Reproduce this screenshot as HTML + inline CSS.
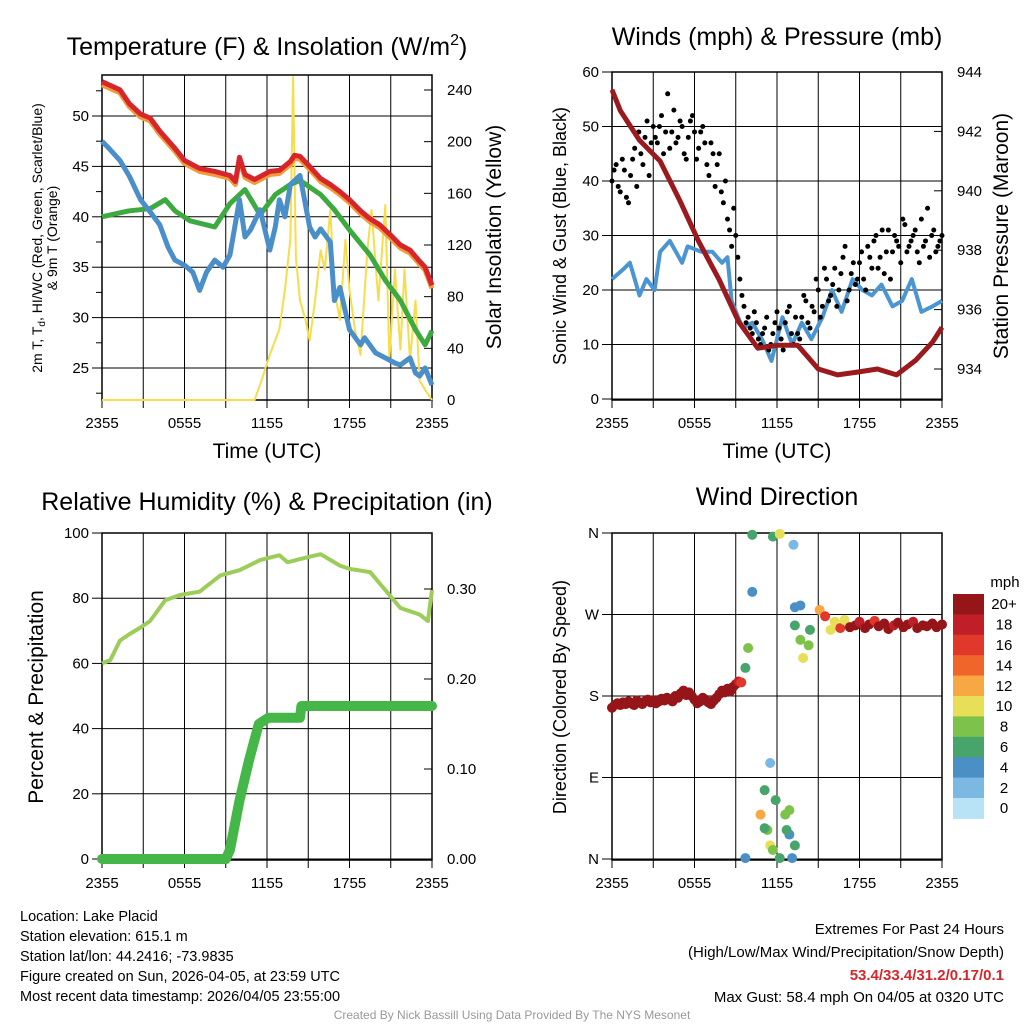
<!DOCTYPE html>
<html><head><meta charset="utf-8">
<style>
html,body{margin:0;padding:0;background:#fff;}
svg{display:block;font-family:"Liberation Sans",Arial,sans-serif;}
</style></head>
<body>
<svg id="chart" width="1024" height="1024" viewBox="0 0 1024 1024" xmlns="http://www.w3.org/2000/svg"></svg>
<script>
// ---- Panel 1 data: temperature / insolation ----
const tHours=[0,1.3,2.0,2.8,3.5,4.2,5.3,6.0,7.1,8.2,9.3,9.7,10.0,10.4,11.1,12.2,12.9,13.7,14.0,14.4,15.1,15.9,16.6,17.3,18.0,18.8,19.5,20.2,20.9,21.7,22.4,23.1,23.5,24];
const tempRed=[53.4,52.6,51.2,50.2,49.8,48.5,46.8,45.6,44.8,44.5,44.1,43.5,45.9,44.2,43.7,44.5,44.6,45.5,46.1,46.0,45.0,43.8,43.2,42.5,41.7,40.6,39.8,39.2,38.3,37.2,36.7,35.6,35.0,33.2];
const dHours=[0,0.5,1.3,2.0,2.8,3.5,4.2,4.8,5.3,6.0,6.6,7.1,7.6,8.2,8.8,9.3,10.0,10.4,10.8,11.5,12.2,12.6,12.9,13.3,13.7,14.4,15.1,15.5,15.9,16.6,16.9,17.3,18.0,18.8,19.1,19.9,20.6,21.3,21.7,22.4,22.8,23.1,23.5,24];
const dewBlue=[47.5,46.8,45.6,44,41.7,40.5,39.2,37,35.7,35.2,34.5,32.7,34.5,35.7,35.0,36.2,41.7,38.0,38.7,40.7,36.7,39,41.7,40,43.2,44.1,39,38,38.8,37.5,31.7,33,28.8,27.3,28,26.5,26,25.5,25.3,26,24.5,24.2,25,23.3];
const gHours=[0,1.3,2.0,3.5,4.6,5.3,6.4,8.2,9.3,10.4,11.5,12.6,13.7,14.4,15.9,16.9,18.0,19.5,20.6,21.7,22.8,23.5,24];
const hiwcGreen=[40,40.4,40.6,40.8,41.7,40.6,39.6,39.0,41.3,42.7,40.2,42.2,43.2,43.6,42.2,40.7,38.7,36.2,33.7,31.7,28.8,27.3,28.7];
const sHours=[0,11.1,11.6,12.2,12.9,13.3,13.7,13.9,14.1,14.4,14.8,15.1,15.5,15.9,16.2,16.6,16.9,17.3,17.7,18.0,18.4,18.8,19.3,19.6,20.1,20.6,20.9,21.3,21.7,22.0,22.4,22.8,23.1,23.5,24];
const solar=[0,0,15,35,55,85,125,250,110,77,62,46,77,116,101,147,85,62,124,85,54,35,116,147,77,151,31,101,39,101,31,77,15,8,0];
const tempTicks=[25,30,35,40,45,50];
const tempMinor=[22.5,27.5,32.5,37.5,42.5,47.5,52.5];
const solarTicks=[0,40,80,120,160,200,240];
const timeTicks=[0,6,12,18,24];
const timeGrid=[3,9,15,21];
const timeLabels=['2355','0555','1155','1755','2355'];
// ---- Panel 2 data: winds / pressure ----
const wHours=[0,0.9,1.3,2.0,2.5,3.1,3.5,4.2,5.1,5.5,6.5,7.3,8.0,8.4,8.7,9.5,10.2,10.9,11.6,12.4,13.1,13.8,14.5,15.3,16.0,16.7,17.5,18.2,18.9,19.6,20.4,21.1,21.8,22.5,23.3,24];
const windSpeed=[22,24,25,19,22,20,27,29,25,28,27,27,25,26,18,13,14,11,7,15,10,14,11,15,20,16,22,20,19,21,17,18,22,16,17,18];
const gustInterval=0.3;
const gusts=[40,43,38,42,36,44,39,45,48,41,50,47,52,49,46,53,48,50,44,51,49,46,50,43,47,39,45,36,33,28,30,22,17,15,12,14,10,13,9,12,16,11,14,17,10,12,15,18,13,16,20,17,22,19,24,20,26,18,23,21,25,22,28,24,30,26,23,31,27,29,25,32,28,30,27,33,29,26,31,28,30];
const gusts2=[42,39,44,37,41,46,49,43,51,47,48,50,45,56,49,47,51,45,48,52,44,49,47,41,45,43,38,40,31,35,26,19,14,13,16,11,12,15,10,14,13,9,16,12,15,11,19,14,17,22,15,24,18,21,17,23,28,20,25,22,27,20,26,29,24,31,27,22,30,28,33,27,29,31,25,28,35,30,27,29];
const pHours=[0,0.6,2.0,3.5,4.9,6.3,7.8,9.2,10.6,12.1,13.5,15.0,16.4,17.9,19.3,20.7,22.1,23.3,24];
const pressure=[943.4,942.7,941.7,941.0,939.7,938.3,937.0,935.6,934.7,934.8,934.8,934.0,933.8,933.9,934.0,933.8,934.3,934.9,935.4];
const windTicks=[0,10,20,30,40,50,60];
const presTicks=[934,936,938,940,942,944];
// ---- Panel 3 data: RH / precip ----
const rhHours=[0,0.6,1.3,2.0,2.8,3.5,4.6,5.7,7.1,8.6,10.0,11.5,12.9,13.5,14.4,15.9,17.3,18.0,19.5,20.6,21.7,23.1,23.7,24];
const rh=[60,61,67,69,71,73,79.4,81,82,87,88.6,91.7,93.2,91,92,93.5,90,89,88,82.5,77,75,73,82.5];
const prHours=[0,9.0,9.3,10.0,10.7,11.4,12.1,13.2,14.4,14.5,24];
const precip=[0,0,0.01,0.065,0.11,0.15,0.157,0.157,0.157,0.17,0.17];
const rhTicks=[0,20,40,60,80,100];
const prTicks=[0,0.1,0.2,0.3];
const prLabels=['0.00','0.10','0.20','0.30'];
// ---- Panel 4 data: wind direction ----
const dirHours=[0,0.2,0.4,0.6,0.8,1.0,1.2,1.4,1.6,1.8,2.0,2.2,2.4,2.6,2.8,3.0,3.2,3.4,3.6,3.8,4.0,4.2,4.4,4.6,4.8,5.0,5.2,5.4,5.6,5.8,6.0,6.2,6.4,6.6,6.8,7.0,7.2,7.4,7.6,7.8,8.0,8.2,8.4,8.6,8.8,9.0,9.2,9.4,
 9.7,9.9,10.2,10.2,11.7,12.2,13.2,13.3,13.7,13.3,13.7,13.9,14.3,14.4,
 11.1,11.3,11.9,11.5,12.2,9.7,11.1,12.9,12.9,13.3,11.7,12.7,10.8,11.5,13.1,12.6,
 15.1,15.5,15.9,16.2,16.6,16.9,17.3,17.7,18.0,18.4,18.7,19.1,19.4,19.8,20.1,20.5,20.8,21.2,21.5,21.9,22.2,22.6,22.9,23.3,23.6,24.0];
const dirDeg=[167,170,172,170,173,171,174,172,170,175,173,171,174,176,173,175,172,174,177,175,178,176,174,180,178,183,186,181,184,180,176,172,174,178,176,173,171,175,178,182,186,184,188,185,190,193,196,195,
 211,233,358,295,356,359,347,278,280,258,242,222,236,253,
 76,32,65,15,1,1,34,54,27,15,10,32,49,106,1,49,
 275,268,253,262,255,264,256,258,262,255,259,263,257,260,254,258,261,256,259,262,255,258,257,260,256,259];
const dirSpeed=[22,22,22,22,22,22,22,22,22,22,22,22,22,22,22,22,22,22,22,22,22,22,22,22,22,22,22,22,22,22,22,22,22,22,22,22,22,22,22,22,22,22,22,22,22,22,18,16,
 7,8,7,4,6,10,3,4,4,6,8,10,9,7,
 7,8,7,10,6,4,6,8,4,6,9,7,12,2,4,8,
 13,16,10,11,17,10,20,22,18,22,22,17,22,22,22,19,22,22,22,18,22,22,22,22,22,22];
const dirTicks=[0,90,180,270,360];
const dirLabels=['N','E','S','W','N'];
const speedColors=['#b8e3f7','#7bb9e2','#4a8fc6','#47a56b','#7dc24a','#e8df58','#f8a843','#f06529','#e0392b','#c01f28','#951519'];
const speedLabels=['0','2','4','6','8','10','12','14','16','18','20+'];

const NS='http://www.w3.org/2000/svg';
const svg=document.getElementById('chart');
function el(tag,attrs,parent){const e=document.createElementNS(NS,tag);for(const k in attrs)e.setAttribute(k,attrs[k]);(parent||svg).appendChild(e);return e;}
function txt(s,attrs,parent){const e=el('text',attrs,parent);e.textContent=s;return e;}
function lin(d0,d1,r0,r1){return v=>r0+(v-d0)/(d1-d0)*(r1-r0);}
function pathD(xs,ys,fx,fy){return xs.map((h,i)=>(i?'L':'M')+fx(h).toFixed(1)+','+fy(ys[i]).toFixed(1)).join(' ');}

function panel(name,L,R,T,B,fx){
  const g=el('g',{});
  
  
  el('rect',{x:L,y:T,width:R-L,height:B-T,fill:'none',stroke:'#000','stroke-width':1.5},g);
  timeGrid.forEach(h=>{
    const x=fx(h);
    const gl=el('line',{x1:x,x2:x,y1:T,y2:B+8,stroke:'#000','stroke-width':1},g);
    
    
  });
  timeTicks.forEach((h,i)=>{
    const x=fx(h);
    const gl=el('line',{x1:x,x2:x,y1:T,y2:B,stroke:'#000','stroke-width':1},g);
    
    
    el('line',{x1:x,x2:x,y1:B,y2:B+8,stroke:'#000','stroke-width':1},g);
    const t=txt(timeLabels[i],{x:x,y:B+28,'text-anchor':'middle','font-size':15},g);
    
    
  });
  return g;
}
function yTicks(g,ticks,labels,fy,L,R,side,grid){
  ticks.forEach((v,i)=>{
    const y=fy(v);
    if(grid){el('line',{x1:L,x2:R,y1:y,y2:y,stroke:'#000','stroke-width':1},g);}
    if(side==='left'){
      el('line',{x1:L-10,x2:L,y1:y,y2:y,stroke:'#000','stroke-width':1},g);
      const t=txt(labels[i],{x:L-13,y:y+5,'text-anchor':'end','font-size':15},g);
      
      
    } else {
      el('line',{x1:R-8,x2:R,y1:y,y2:y,stroke:'#000','stroke-width':1},g);
      const t=txt(labels[i],{x:R+15,y:y+5,'text-anchor':'start','font-size':15},g);
      
      
    }
  });
}
function vlabel(s,x,y,size,name,rot){
  const t=txt(s,{x:x,y:y,'text-anchor':'middle','font-size':size,transform:'rotate('+(rot||-90)+' '+x+' '+y+')'});
  
  
  return t;
}
function title(s,x,y,name){const t=txt(s,{x:x,y:y,'text-anchor':'middle','font-size':25});return t;}

// ===== Panel 1 =====
(function(){
  const L=102,R=432,T=75,B=400;
  const fx=lin(0,24,L,R), fy=lin(25,50,368,116), fs=lin(0,240,400,90);
  const g=panel('temperature-panel',L,R,T,B,fx);
  yTicks(g,tempTicks,tempTicks.map(String),fy,L,R,'left',true);
  tempMinor.forEach(v=>{el('line',{x1:L-6,x2:L,y1:fy(v),y2:fy(v),stroke:'#000','stroke-width':1},g);});
  yTicks(g,solarTicks,solarTicks.map(String),fs,L,R,'right',false);
  const s=el('path',{d:pathD(sHours,solar,fx,fs),fill:'none',stroke:'#f5dd4b','stroke-width':2,'stroke-linejoin':'round'},g);
   
  const gr=el('path',{d:pathD(gHours,hiwcGreen,fx,fy),fill:'none',stroke:'#3daa3f','stroke-width':5,'stroke-linejoin':'round'},g);
   
  const b=el('path',{d:pathD(dHours,dewBlue,fx,fy),fill:'none',stroke:'#4a8fc9','stroke-width':5,'stroke-linejoin':'round'},g);
   
  const o=el('path',{d:pathD(tHours,tempRed.map(v=>v-0.3),fx,fy),fill:'none',stroke:'#f39a3a','stroke-width':5,'stroke-linejoin':'round'},g);
   
  const r=el('path',{d:pathD(tHours,tempRed,fx,fy),fill:'none',stroke:'#d7262b','stroke-width':5,'stroke-linejoin':'round'},g);
   
  const tt=title('',267,55,'temperature-title');
  tt.innerHTML='Temperature (F) &amp; Insolation (W/m<tspan font-size="16" dy="-10">2</tspan><tspan dy="10">)</tspan>';
  const y1=txt('',{x:42,y:238,'text-anchor':'middle','font-size':14,transform:'rotate(-90 42 238)'});
  y1.innerHTML='2m T, T<tspan font-size="10" dy="3">d</tspan><tspan dy="-3">, HI/WC (Red, Green, Scarlet/Blue)</tspan>';
   
  vlabel('& 9m T (Orange)',57,238,14,'y-axis-title-2');
  vlabel('Solar Insolation (Yellow)',501,237,21,'y2-axis-title');
  const xt=txt('Time (UTC)',{x:267,y:458,'text-anchor':'middle','font-size':21});
   
})();

// ===== Panel 2 =====
(function(){
  const L=612,R=942,T=72,B=400;
  const fx=lin(0,24,L,R), fy=lin(0,60,399,72), fp=lin(934,944,369,72);
  const g=panel('winds-panel',L,R,T,B,fx);
  yTicks(g,windTicks,windTicks.map(String),fy,L,R,'left',true);
  yTicks(g,presTicks,presTicks.map(String),fp,L,R,'right',false);
  const w=el('path',{d:pathD(wHours,windSpeed,fx,fy),fill:'none',stroke:'#4a95d2','stroke-width':4,'stroke-linejoin':'round'},g);
   
  gusts.forEach((v,i)=>{
    const c=el('circle',{cx:fx(i*gustInterval),cy:fy(v),r:2.5,fill:'#000'},g);
    
    
  });
  gusts2.forEach((v,i)=>{
    const c=el('circle',{cx:fx(i*gustInterval+0.15),cy:fy(v),r:2.5,fill:'#000'},g);
    
    
  });
  const p=el('path',{d:pathD(pHours,pressure,fx,fp),fill:'none',stroke:'#9b1a1e','stroke-width':5,'stroke-linejoin':'round'},g);
   
  title('Winds (mph) & Pressure (mb)',777,45,'winds-title');
  vlabel('Sonic Wind & Gust (Blue, Black)',566,236,18,'y-axis-title');
  vlabel('Station Pressure (Maroon)',1008,236,21,'y2-axis-title');
  const xt=txt('Time (UTC)',{x:777,y:458,'text-anchor':'middle','font-size':21});
   
})();

// ===== Panel 3 =====
(function(){
  const L=102,R=432,T=533,B=860;
  const fx=lin(0,24,L,R), fy=lin(0,100,859,533), fp=lin(0,0.1,859,769);
  const g=panel('humidity-panel',L,R,T,B,fx);
  yTicks(g,rhTicks,rhTicks.map(String),fy,L,R,'left',true);
  yTicks(g,prTicks,prLabels,fp,L,R,'right',false);
  const p=el('path',{d:pathD(prHours,precip,fx,fp),fill:'none',stroke:'#45b648','stroke-width':10,'stroke-linejoin':'round','stroke-linecap':'round'},g);
   
  const h=el('path',{d:pathD(rhHours,rh,fx,fy),fill:'none',stroke:'#9ccd5a','stroke-width':4,'stroke-linejoin':'round'},g);
   
  title('Relative Humidity (%) & Precipitation (in)',267,510,'humidity-title');
  vlabel('Percent & Precipitation',43,697,21,'y-axis-title');
})();

// ===== Panel 4 =====
(function(){
  const L=612,R=942,T=533,B=860;
  const fx=lin(0,24,L,R), fy=lin(0,360,859,533);
  const g=panel('direction-panel',L,R,T,B,fx);
  yTicks(g,dirTicks,dirLabels,fy,L,R,'left',true);
  dirHours.forEach((h,i)=>{
    const idx=Math.min(10,Math.floor(dirSpeed[i]/2));
    const c=el('circle',{cx:fx(h),cy:fy(dirDeg[i]),r:5,fill:speedColors[idx]},g);
    
    
  });
  title('Wind Direction',777,505,'direction-title');
  vlabel('Direction (Colored By Speed)',566,697,18,'y-axis-title');
  const cb=el('g',{});
  
  
  const top=594, bh=20.4;
  for(let i=0;i<11;i++){
    const k=10-i;
    const r=el('rect',{x:953,y:top+i*bh,width:31,height:bh+0.5,fill:speedColors[k]},cb);
    
    
    const t=txt(speedLabels[k],{x:1004,y:top+i*bh+bh/2+5,'text-anchor':'middle','font-size':15},cb);
    
    
  }
  const m=txt('mph',{x:1005,y:587,'text-anchor':'middle','font-size':15},cb);
  
  
})();

// ===== Footer text =====
const infoLines=['Location: Lake Placid','Station elevation: 615.1 m','Station lat/lon: 44.2416; -73.9835','Figure created on Sun, 2026-04-05, at 23:59 UTC','Most recent data timestamp: 2026/04/05 23:55:00'];
infoLines.forEach((s,i)=>{
  const t=txt(s,{x:20,y:921+i*20,'font-size':14.5});
  
  
});
const ext=[['Extremes For Past 24 Hours','#000','normal',934],['(High/Low/Max Wind/Precipitation/Snow Depth)','#000','normal',957],['53.4/33.4/31.2/0.17/0.1','#d7262b','bold',980],['Max Gust: 58.4 mph On 04/05 at 0320 UTC','#000','normal',1002]];
ext.forEach(e=>{
  const t=txt(e[0],{x:1004,y:e[3],'text-anchor':'end','font-size':15,fill:e[1],'font-weight':e[2]});
  
  
});
const cr=txt('Created By Nick Bassill Using Data Provided By The NYS Mesonet',{x:512,y:1019,'text-anchor':'middle','font-size':12,fill:'#999'});


</script>
</body></html>
